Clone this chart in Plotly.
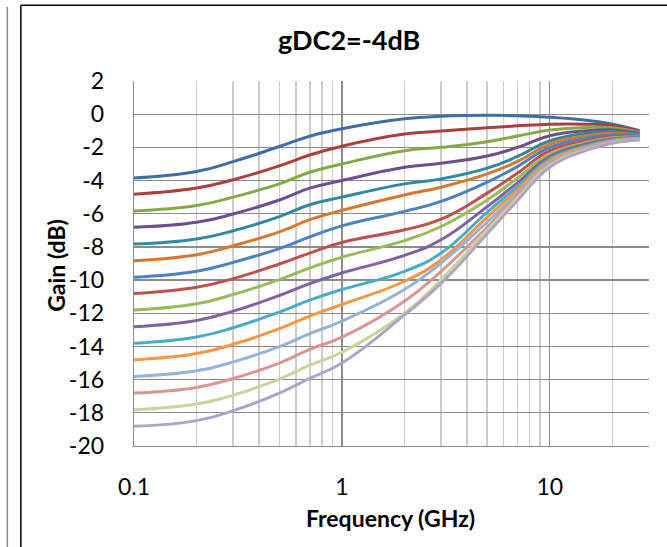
import plotly.graph_objects as go

freq_ghz = [0.1, 0.2, 0.3, 0.5, 0.7, 1, 2, 3, 5, 7, 10, 15, 20, 27]

gain_1 = [-3.84, -3.45, -2.86, -1.95, -1.33, -0.88, -0.28, -0.13, -0.07, -0.1, -0.18, -0.36, -0.6, -1.0]
gain_2 = [-4.82, -4.45, -3.95, -3.12, -2.46, -1.93, -1.2, -1.02, -0.82, -0.7, -0.6, -0.6, -0.7, -1.04]
gain_3 = [-5.83, -5.5, -5.0, -4.2, -3.5, -3.0, -2.2, -2.0, -1.66, -1.32, -0.96, -0.8, -0.82, -1.1]
gain_4 = [-6.82, -6.52, -6.02, -5.17, -4.46, -4.0, -3.2, -2.96, -2.52, -2.0, -1.3, -1.0, -0.95, -1.16]
gain_5 = [-7.83, -7.52, -7.03, -6.17, -5.46, -5.0, -4.2, -3.9, -3.25, -2.55, -1.6, -1.15, -1.05, -1.22]
gain_6 = [-8.83, -8.47, -7.93, -7.09, -6.36, -5.8, -4.87, -4.4, -3.6, -2.85, -1.8, -1.3, -1.15, -1.27]
gain_7 = [-9.83, -9.47, -8.93, -8.1, -7.4, -6.73, -5.86, -5.26, -4.1, -3.15, -2.0, -1.45, -1.25, -1.3]
gain_8 = [-10.81, -10.43, -9.91, -9.03, -8.37, -7.73, -6.97, -6.33, -4.76, -3.55, -2.2, -1.6, -1.35, -1.34]
gain_9 = [-11.81, -11.43, -10.87, -9.97, -9.27, -8.62, -7.62, -6.77, -5.17, -3.85, -2.4, -1.7, -1.42, -1.38]
gain_10 = [-12.81, -12.43, -11.87, -10.93, -10.21, -9.57, -8.51, -7.57, -5.57, -4.13, -2.55, -1.8, -1.5, -1.41]
gain_11 = [-13.81, -13.43, -12.87, -11.93, -11.21, -10.57, -9.47, -8.37, -5.9, -4.36, -2.7, -1.9, -1.56, -1.44]
gain_12 = [-14.81, -14.43, -13.87, -12.93, -12.17, -11.47, -10.07, -8.77, -6.2, -4.55, -2.8, -1.97, -1.6, -1.47]
gain_13 = [-15.81, -15.47, -14.93, -14.01, -13.23, -12.47, -10.57, -8.97, -6.5, -4.75, -2.9, -2.03, -1.64, -1.5]
gain_14 = [-16.81, -16.47, -15.93, -15.01, -14.17, -13.44, -11.27, -9.47, -6.8, -4.9, -3.0, -2.08, -1.68, -1.52]
gain_15 = [-17.81, -17.47, -16.93, -15.97, -15.13, -14.35, -12.0, -9.97, -7.0, -5.05, -3.1, -2.13, -1.72, -1.54]
gain_16 = [-18.81, -18.47, -17.87, -16.81, -15.93, -15.0, -12.1, -10.2, -7.2, -5.2, -3.2, -2.18, -1.75, -1.56]

series = [gain_1, gain_2, gain_3, gain_4, gain_5, gain_6, gain_7, gain_8,
          gain_9, gain_10, gain_11, gain_12, gain_13, gain_14, gain_15, gain_16]

colors = ["#3E6DA8", "#A9403D", "#86A845", "#6B5090", "#32889E", "#D8782E",
          "#4A82C3", "#C0504D", "#9BBB59", "#8064A2", "#4BACC6", "#F79646",
          "#95B3D7", "#D99694", "#C3D69B", "#B3A2C7"]

x_ticks = [0.1, 1, 10]
x_tick_text = ["0.1", "1", "10"]
x_minor = [0.2, 0.3, 0.4, 0.5, 0.6, 0.7, 0.8, 0.9, 2, 3, 4, 5, 6, 7, 8, 9, 20, 30]
y_ticks = list(range(-20, 3, 2))
y_tick_text = [str(v) for v in y_ticks]

FONT = "Lato"

fig = go.Figure()
for i, g in enumerate(series):
    fig.add_trace(go.Scatter(
        x=freq_ghz, y=g, mode="lines",
        line=dict(color=colors[i], width=3, shape="spline", smoothing=1.3),
        showlegend=False, hoverinfo="skip"))

fig.update_layout(
    width=667, height=547,
    margin=dict(l=134, r=18, t=81, b=101),
    paper_bgcolor="white", plot_bgcolor="white",
    font=dict(family=FONT, color="black"),
    xaxis=dict(
        type="log", range=[-1, 1.4771213],
        tickvals=x_ticks, ticktext=x_tick_text,
        tickfont=dict(size=23, family=FONT),
        showgrid=True, gridcolor="#8C8C8C", gridwidth=1.3,
        minor=dict(tickvals=x_minor, showgrid=True, gridcolor="#CCCCCC", gridwidth=1.6, ticks=""),
        showline=True, linecolor="#8C8C8C", linewidth=1.3,
        ticks="", ticklabelstandoff=20, zeroline=False,
    ),
    yaxis=dict(
        range=[-20, 2], tickvals=y_ticks, ticktext=y_tick_text,
        tickfont=dict(size=23, family=FONT),
        showgrid=True, gridcolor="#8C8C8C", gridwidth=1.3,
        showline=True, linecolor="#8C8C8C", linewidth=1.3,
        ticks="", ticklabelstandoff=24, zeroline=False,
    ),
    annotations=[
        dict(text="<b>gDC2=-4dB</b>", x=0.418, y=1.113, xref="paper", yref="paper",
             showarrow=False, font=dict(size=27, family=FONT), xanchor="center", yanchor="middle"),
        dict(text="<b>Frequency (GHz)</b>", x=0.4985, y=-0.197, xref="paper", yref="paper",
             showarrow=False, font=dict(size=23, family=FONT), xanchor="center", yanchor="middle"),
        dict(text="<b>Gain (dB)</b>", x=-0.152, y=0.4955, xref="paper", yref="paper",
             showarrow=False, font=dict(size=23, family=FONT), textangle=-90,
             xanchor="center", yanchor="middle"),
    ],
    shapes=[
        dict(type="line", xref="paper", yref="paper", x0=-0.2197, x1=-0.2197, y0=-0.5, y1=1.2074,
             line=dict(color="black", width=1.5)),
        dict(type="line", xref="paper", yref="paper", x0=-0.2197, x1=1.3, y0=1.2074, y1=1.2074,
             line=dict(color="black", width=1.5)),
        dict(type="line", xref="paper", yref="paper", x0=-0.246, x1=-0.246, y0=-0.5, y1=1.2025,
             line=dict(color="#8A8A8A", width=1.5)),
    ],
)

fig.write_html("out.html", config={"displayModeBar": False, "staticPlot": True},
               post_script="document.body.style.margin='0';document.body.style.overflow='hidden';")
